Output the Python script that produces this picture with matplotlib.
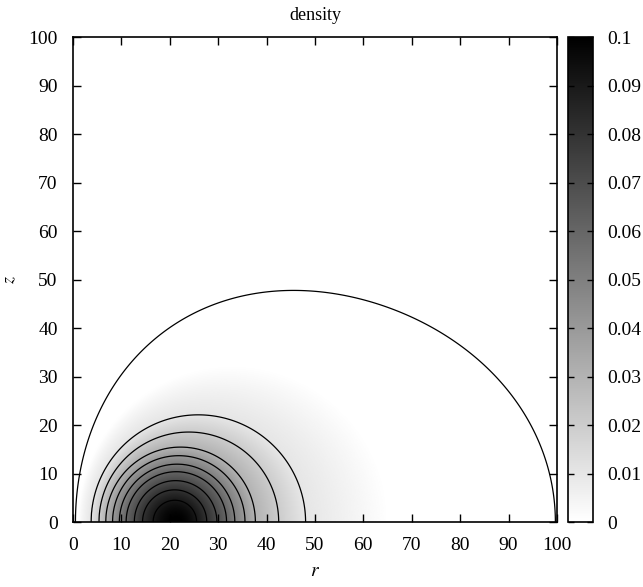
import numpy as np
import matplotlib
matplotlib.use("Agg")
import matplotlib.pyplot as plt

plt.rcParams['font.family'] = ['Liberation Serif', 'DejaVu Serif']
plt.rcParams['mathtext.fontset'] = 'stix'

# density levels (outer -> inner) and where each contour meets z = 0
levels = [0.0, 0.01, 0.02, 0.03, 0.04, 0.05, 0.06, 0.07, 0.08, 0.09, 0.1]
inner_r = [1.0, 3.8, 5.4, 6.8, 8.2, 9.6, 11.0, 12.7, 14.4, 16.6, 21.3]
outer_r = [65.0, 47.7, 42.4, 37.6, 35.5, 33.4, 31.7, 29.7, 27.6, 25.5, 21.3]

# outer (very low density) boundary
edge_r = [100.0, 97.9, 90.3, 81.3, 75.8, 67.6, 46.9, 34.5, 26.9, 20.0, 13.2, 8.3, 4.9, 2.5, 1.1, 0.3]
edge_z = [0.0, 10.7, 26.5, 35.5, 39.2, 43.4, 47.5, 46.5, 44.1, 40.3, 34.1, 27.9, 21.0, 14.2, 8.7, 0.0]
edge_level = 1e-4

contour_levels = [edge_level] + levels[1:-1]
ticks_cb = [0, 0.01, 0.02, 0.03, 0.04, 0.05, 0.06, 0.07, 0.08, 0.09, 0.1]
ticks_cb_labels = ['0', '0.01', '0.02', '0.03', '0.04', '0.05', '0.06', '0.07', '0.08', '0.09', '0.1']

# build the density map from the read contours
n = 1000
r = np.linspace(0, 100, n)
z = np.linspace(0, 100, n)
R, Z = np.meshgrid(r, z)

lev = np.array(levels)
c = (np.array(inner_r) + np.array(outer_r)) / 2
a = (np.array(outer_r) - np.array(inner_r)) / 2
F = (R[None] - c[:, None, None])**2 + Z[None]**2 - a[:, None, None]**2
m = (F <= 0).sum(axis=0)
rho = np.zeros_like(R)
for k in range(1, len(lev)):
    sel = m == k
    f0 = F[k - 1][sel]
    f1 = F[k][sel]
    rho[sel] = lev[k - 1] + (lev[k] - lev[k - 1]) * (-f0) / (f1 - f0)
rho[m == len(lev)] = lev[-1]

# faint envelope so the outermost contour follows the read boundary
# (smooth cosine fit of the boundary distance around (50, 0))
er = np.array(edge_r) - 50
ez = np.array(edge_z)
psi = np.arctan2(ez, er)
dist = np.hypot(er, ez)
nk = 5
A = np.cos(np.outer(psi, np.arange(nk)))
coef = np.linalg.lstsq(A, dist, rcond=None)[0]
Pg = np.arctan2(Z, R - 50)
Dg = np.hypot(R - 50, Z)
Db = sum(coef[k] * np.cos(k * Pg) for k in range(nk))
env = edge_level * np.clip(2 - Dg / Db, 0, None)
rho = rho + env

fig = plt.figure(figsize=(6.43, 5.87), dpi=100)
ax = fig.add_axes([0.1135, 0.1107, 0.7527, 0.8262])
cax = fig.add_axes([0.8834, 0.1107, 0.0389, 0.8262])

im = ax.imshow(rho, origin='lower', extent=[0, 100, 0, 100], cmap='gray_r',
               vmin=0, vmax=0.1, aspect='auto', interpolation='bilinear')
ax.contour(R, Z, rho, levels=contour_levels, colors='black', linewidths=0.9)

ax.set_xlim(0, 100)
ax.set_ylim(0, 100)
ax.set_xticks(np.arange(0, 101, 10))
ax.set_yticks(np.arange(0, 101, 10))
ax.tick_params(direction='in', top=True, right=True, length=6, width=1,
               labelsize=14, pad=11)
for s in ax.spines.values():
    s.set_linewidth(1.2)
ax.set_xlabel('$r$', fontsize=14, labelpad=6)
ax.set_ylabel('$z$', fontsize=13, labelpad=7)
ax.set_title('density', fontsize=13, pad=12)

cb = fig.colorbar(im, cax=cax, ticks=ticks_cb)
cb.ax.set_yticklabels(ticks_cb_labels)
cb.ax.tick_params(direction='in', left=True, right=True, length=4, width=1,
                  labelsize=14, pad=10)
cb.outline.set_linewidth(1.2)

fig.savefig('out.png', dpi=100)
